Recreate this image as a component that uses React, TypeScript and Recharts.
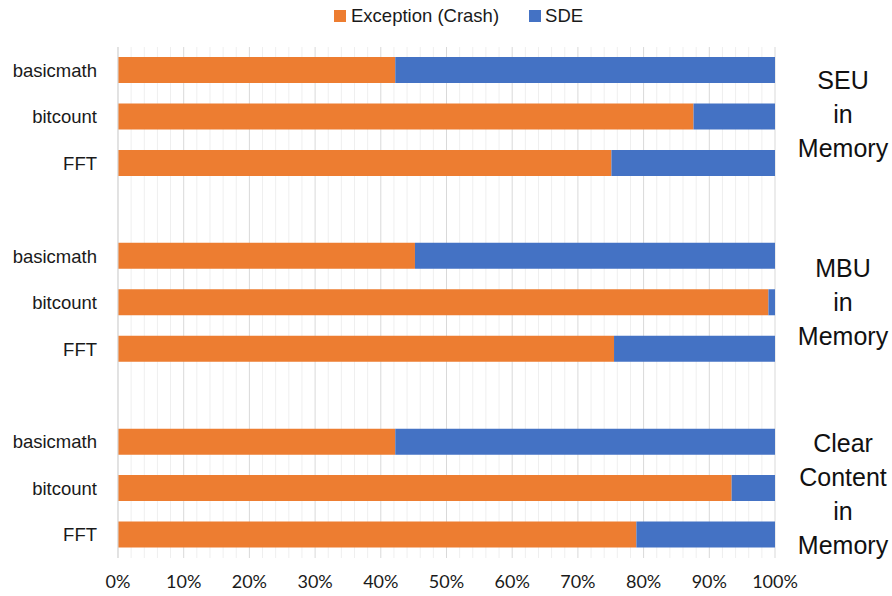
import React from 'react';
import { BarChart, Bar, XAxis, YAxis, CartesianGrid } from 'recharts';

const benchmarks = ['basicmath', 'bitcount', 'FFT'];

// crash vs. SDE share (%) per fault model
const seuCrash = [42.2, 87.6, 75.1];
const seuSde = [57.8, 12.4, 24.9];
const mbuCrash = [45.2, 99.0, 75.5];
const mbuSde = [54.8, 1.0, 24.5];
const clearCrash = [42.2, 93.4, 78.9];
const clearSde = [57.8, 6.6, 21.1];

const groupLabels = [
  ['SEU', 'in', 'Memory'],
  ['MBU', 'in', 'Memory'],
  ['Clear', 'Content', 'in', 'Memory'],
];

const xTicks = [0, 10, 20, 30, 40, 50, 60, 70, 80, 90, 100];
const minorTicks = [2, 4, 6, 8, 12, 14, 16, 18, 22, 24, 26, 28, 32, 34, 36, 38, 42, 44, 46, 48, 52, 54, 56, 58, 62, 64, 66, 68, 72, 74, 76, 78, 82, 84, 86, 88, 92, 94, 96, 98];

const ORANGE = '#ED7D31';
const BLUE = '#4472C4';

type Row = { key: string; name: string; crash: number | null; sde: number | null };

const groups = [
  { id: 'seu', crash: seuCrash, sde: seuSde },
  { id: 'mbu', crash: mbuCrash, sde: mbuSde },
  { id: 'clear', crash: clearCrash, sde: clearSde },
];

const rows: Row[] = [];
groups.forEach((g, gi) => {
  if (gi > 0) rows.push({ key: `gap-${gi}`, name: '', crash: null, sde: null });
  benchmarks.forEach((b, i) => {
    rows.push({ key: `${g.id}-${b}`, name: b, crash: g.crash[i], sde: g.sde[i] });
  });
});

const nameOf = (k: string) => rows.find(r => r.key === k)?.name ?? '';

const labelTops = [63, 251, 426];

export default function App() {
  return (
    <div style={{ position: 'absolute', left: 0, top: 0, width: 892, height: 596, background: '#fff' }}>
      {/* legend */}
      <div style={{ position: 'absolute', top: 5, left: 334, display: 'flex', alignItems: 'center', fontFamily: '"Liberation Sans", Arial, sans-serif', fontSize: 18.5, color: '#1a1a1a' }}>
        <span style={{ width: 12, height: 12, background: ORANGE, display: 'inline-block', marginRight: 5 }} />
        <span>Exception (Crash)</span>
        <span style={{ width: 12, height: 12, background: BLUE, display: 'inline-block', marginLeft: 30, marginRight: 4 }} />
        <span>SDE</span>
      </div>

      <BarChart
        width={892}
        height={596}
        data={rows}
        layout="vertical"
        margin={{ top: 47, right: 117, bottom: 8, left: 0 }}
        barSize={26}
      >
        <CartesianGrid
          horizontal={false}
          stroke="#EFEFEF"
          verticalCoordinatesGenerator={({ xAxis, offset }: any) => {
            const s = xAxis?.scale;
            return minorTicks.map(v => (typeof s === 'function' ? s(v) : offset.left + (offset.width * v) / 100));
          }}
        />
        <CartesianGrid horizontal={false} stroke="#D9D9D9" />
        <XAxis
          type="number"
          domain={[0, 100]}
          ticks={xTicks}
          tickFormatter={(v: number) => `${v}%`}
          axisLine={false}
          tickLine={false}
          tickMargin={11}
          height={30}
          tick={{ fontFamily: 'Lato, "Open Sans", sans-serif', fontSize: 18, fill: '#1a1a1a' }}
        />
        <YAxis
          type="category"
          dataKey="key"
          width={118}
          interval={0}
          tickFormatter={nameOf}
          tickLine={false}
          axisLine={{ stroke: '#D9D9D9' }}
          tickMargin={15}
          tick={{ fontFamily: '"Liberation Sans", Arial, sans-serif', fontSize: 18.5, fill: '#1a1a1a' }}
        />
        <Bar dataKey="crash" stackId="a" fill={ORANGE} isAnimationActive={false} />
        <Bar dataKey="sde" stackId="a" fill={BLUE} isAnimationActive={false} />
      </BarChart>

      {groupLabels.map((lines, i) => (
        <div
          key={i}
          style={{
            position: 'absolute',
            top: labelTops[i],
            left: 793,
            width: 100,
            textAlign: 'center',
            fontFamily: '"Liberation Sans", Arial, sans-serif',
            fontSize: 25,
            lineHeight: '34px',
            color: '#111',
          }}
        >
          {lines.map(l => (
            <div key={l}>{l}</div>
          ))}
        </div>
      ))}
    </div>
  );
}
